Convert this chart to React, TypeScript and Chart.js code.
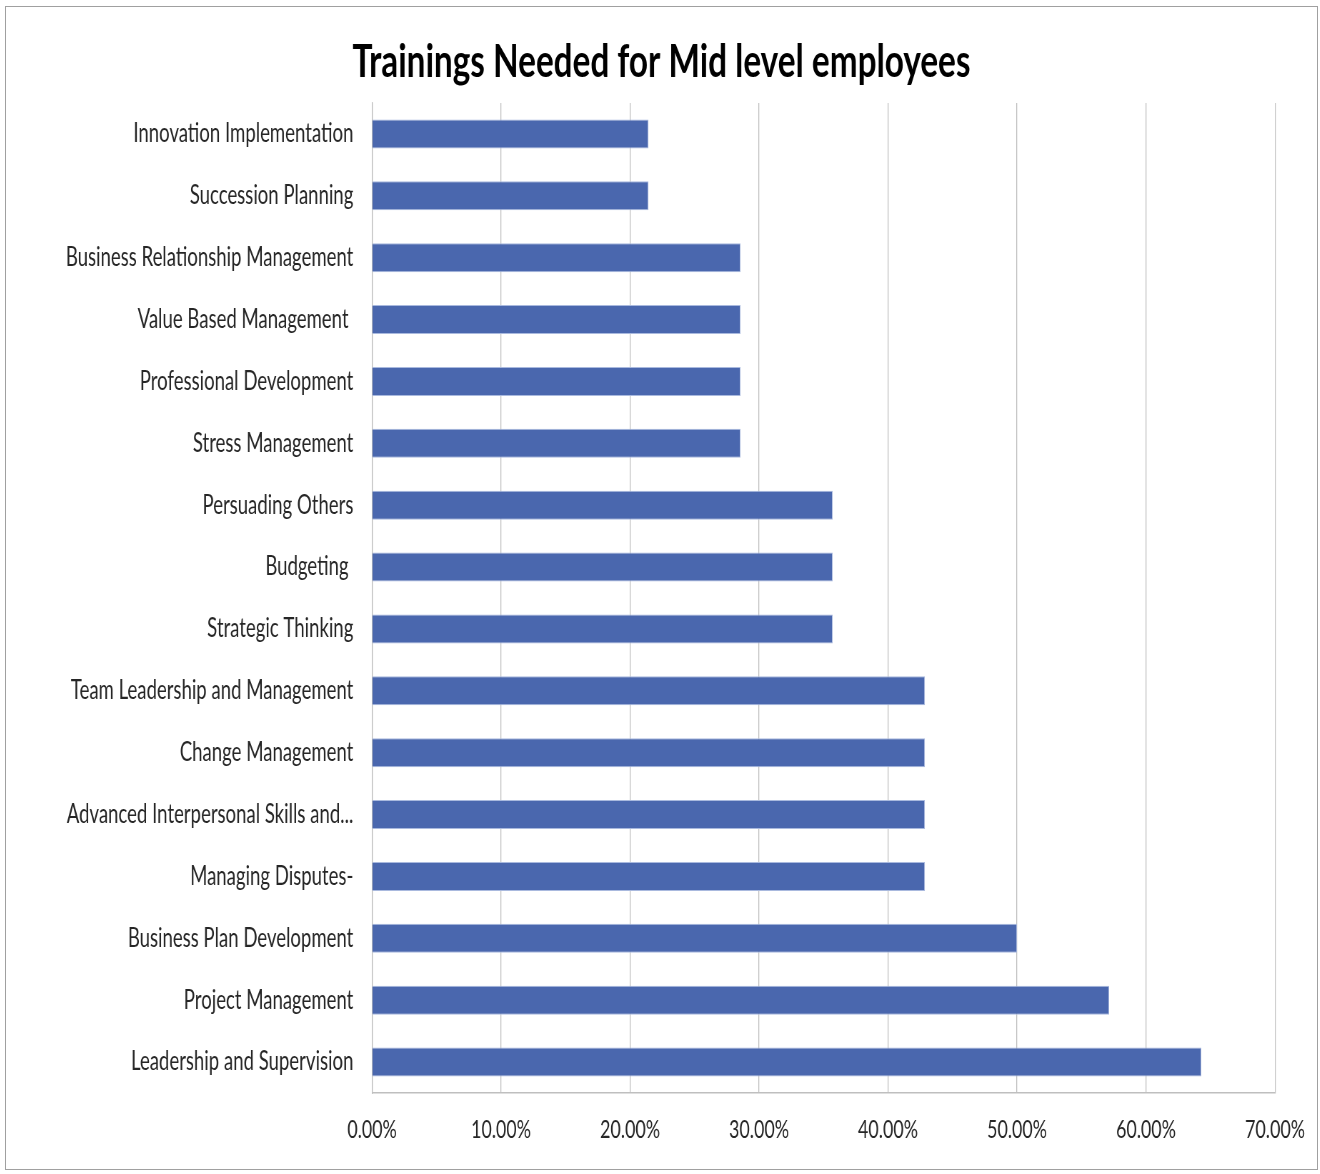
import React, { useEffect, useRef } from "react";
import { Chart, registerables } from "chart.js";

Chart.register(...registerables);

const TITLE = "Trainings Needed for Mid level employees";

const categories = [
  "Innovation Implementation",
  "Succession Planning",
  "Business Relationship Management",
  "Value Based Management ",
  "Professional Development",
  "Stress Management",
  "Persuading Others",
  "Budgeting ",
  "Strategic Thinking",
  "Team Leadership and Management",
  "Change Management",
  "Advanced Interpersonal Skills and...",
  "Managing Disputes-",
  "Business Plan Development",
  "Project Management",
  "Leadership and Supervision",
];

const values = [
  0.2143, 0.2143, 0.2857, 0.2857, 0.2857, 0.2857, 0.3571, 0.3571, 0.3571,
  0.4286, 0.4286, 0.4286, 0.4286, 0.5, 0.5714, 0.6429,
];

const xMin = 0;
const xMax = 0.7;
const xStep = 0.1;

const FONT = "Lato, 'Open Sans', 'DejaVu Sans', sans-serif";

export default function App() {
  const ref = useRef<HTMLCanvasElement | null>(null);

  useEffect(() => {
    const canvas = ref.current!;
    const m = document.createElement("canvas").getContext("2d")!;
    m.font = `26px ${FONT}`;
    const s = 220 / m.measureText("Innovation Implementation").width;
    m.font = `bold 40px ${FONT}`;
    const titleSize = (40 * 618) / (m.measureText(TITLE).width * s);

    const DW = 1311;
    const DH = 1162;
    const LW = Math.round(DW / s);
    canvas.width = LW;
    canvas.height = DH;
    canvas.style.width = DW + "px";
    canvas.style.height = DH + "px";

    const padTop = 55 - 0.6 * titleSize;
    const padBottom = 96 - padTop - 1.2 * titleSize;
    const side = 42;

    const chart = new Chart(canvas, {
      type: "bar",
      data: {
        labels: categories,
        datasets: [
          {
            data: values,
            backgroundColor: "#4A67AE",
            borderColor: "#A9B9DE",
            borderWidth: 1,
            barPercentage: 0.47,
            categoryPercentage: 1,
          },
        ],
      },
      options: {
        indexAxis: "y",
        responsive: false,
        animation: false,
        devicePixelRatio: 1,
        layout: { padding: { left: side / s, right: side / s, top: 0, bottom: 0 } },
        plugins: {
          legend: { display: false },
          tooltip: { enabled: false },
          title: {
            display: true,
            text: TITLE,
            color: "#000000",
            font: { family: FONT, size: titleSize, weight: "bold" },
            padding: { top: padTop, bottom: padBottom },
          },
        },
        scales: {
          y: {
            type: "category",
            grid: { display: false },
            border: { display: true, color: "#BFBFBF", width: 1.3 },
            ticks: {
              autoSkip: false,
              color: "#262626",
              padding: 13 / s,
              font: { family: FONT, size: 26 },
            },
            afterFit: (sc: any) => {
              sc.width = (366 - side) / s;
            },
          },
          x: {
            type: "linear",
            min: xMin,
            max: xMax,
            grid: { color: "#C0C0C0", lineWidth: 1.3, drawTicks: false },
            border: { display: true, color: "#BFBFBF", width: 1.5 },
            ticks: {
              stepSize: xStep,
              color: "#262626",
              padding: 22,
              font: { family: FONT, size: 25 },
              callback: (v: any) => (Number(v) * 100).toFixed(2) + "%",
            },
            afterFit: (sc: any) => {
              sc.height = 76;
              sc.paddingLeft = 0;
              sc.paddingRight = 0;
            },
          },
        },
      },
    });
    return () => chart.destroy();
  }, []);

  return (
    <div
      style={{
        position: "absolute",
        left: 5,
        top: 6,
        width: 1311,
        height: 1162,
        border: "1px solid #A0A0A0",
        background: "#ffffff",
      }}
    >
      <canvas ref={ref} style={{ display: "block" }} />
    </div>
  );
}
